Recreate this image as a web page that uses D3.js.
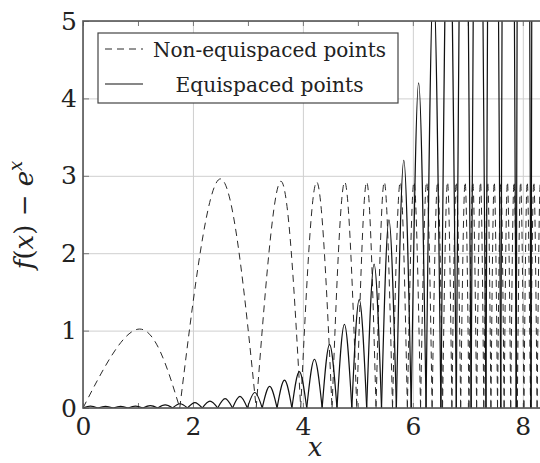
<!DOCTYPE html>
<html>
<head>
<meta charset="utf-8">
<script src="https://cdn.jsdelivr.net/npm/d3@7"></script>
<style>
  body { margin: 0; background: #fff; }
  svg { display: block; }
</style>
</head>
<body>
<div id="chart"></div>
<script>
// tick labels
var xTickLabels = [0, 2, 4, 6, 8];
var yTickLabels = [0, 1, 2, 3, 4, 5];
var xMinorTicks = [0, 1, 2, 3, 4, 5, 6, 7, 8];

// equispaced points: zeros of the error and the height of each arch
var eqZeros = [0.00, 0.27, 0.55, 0.82, 1.09, 1.36, 1.63, 1.90, 2.17, 2.45, 2.72,
  2.99, 3.26, 3.53, 3.80, 4.07, 4.35, 4.62, 4.89, 5.16, 5.43, 5.70, 5.97,
  6.24, 6.51, 6.79, 7.06, 7.33, 7.60, 7.88, 8.15, 8.42, 8.69];
var eqPeaks = [0.025, 0.02, 0.02, 0.025, 0.03, 0.04, 0.055, 0.07, 0.09, 0.12, 0.15,
  0.20, 0.28, 0.36, 0.47, 0.63, 0.82, 1.08, 1.40, 1.86, 2.43, 3.2,
  4.2, 5.5, 7.2, 9.5, 12.5, 16.4, 21.5, 28.2, 37, 48];

// non-equispaced points
var neqZeros = [0, 1.76, 3.15, 3.96, 4.53, 4.98, 5.33, 5.63, 5.90, 6.14, 6.35, 6.54,
  6.71, 6.87, 7.02, 7.16, 7.29, 7.42, 7.54, 7.66, 7.78, 7.90, 8.02, 8.14, 8.26, 8.38, 8.50];
var neqPeakX = [1.03, 2.50, 3.60, 4.25, 4.76, 5.16, 5.48, 5.77, 6.02, 6.25, 6.45, 6.63,
  6.79, 6.95, 7.09, 7.23, 7.36, 7.48, 7.60, 7.72, 7.84, 7.96, 8.08, 8.20, 8.32, 8.44];
var neqPeaks = [1.02, 2.96, 2.93, 2.92, 2.92, 2.92, 2.92, 2.92, 2.92, 2.92, 2.92, 2.92,
  2.92, 2.92, 2.92, 2.92, 2.92, 2.92, 2.92, 2.92, 2.92, 2.92, 2.92, 2.92, 2.92, 2.92];

var serif = "'DejaVu Serif', 'Liberation Serif', serif";

var svgWidth = 540;
var svgHeight = 463;

var margin = { top: 21, bottom: 55, right: -7, left: 83 };
var width = svgWidth - margin.left - margin.right;
var height = svgHeight - margin.top - margin.bottom;

var svg = d3.select("#chart")
  .append("svg")
  .attr("width", svgWidth)
  .attr("height", svgHeight);

var chartGroup = svg.append("g")
  .attr("transform", `translate(${margin.left}, ${margin.top})`);

var xScale = d3.scaleLinear().domain([0, 8.44]).range([0, width]);
var yScale = d3.scaleLinear().domain([0, 5]).range([height, 0]);

svg.append("defs").append("clipPath")
  .attr("id", "plot-clip")
  .append("rect")
  .attr("width", width)
  .attr("height", height);

// grid
chartGroup.append("g")
  .attr("transform", `translate(0, ${height})`)
  .call(d3.axisBottom(xScale).tickValues(xTickLabels).tickSize(-height).tickFormat(""))
  .call(g => g.select(".domain").remove())
  .call(g => g.selectAll("line").attr("stroke", "#cfcfcf"));

chartGroup.append("g")
  .call(d3.axisLeft(yScale).tickValues(yTickLabels).tickSize(-width).tickFormat(""))
  .call(g => g.select(".domain").remove())
  .call(g => g.selectAll("line").attr("stroke", "#cfcfcf"));

// small inner ticks
chartGroup.append("g")
  .attr("transform", `translate(0, ${height})`)
  .call(d3.axisBottom(xScale).tickValues(xMinorTicks).tickSize(-5).tickFormat(""))
  .call(g => g.select(".domain").remove())
  .call(g => g.selectAll("line").attr("stroke", "#777"));

chartGroup.append("g")
  .call(d3.axisTop(xScale).tickValues(xMinorTicks).tickSize(-5).tickFormat(""))
  .call(g => g.select(".domain").remove())
  .call(g => g.selectAll("line").attr("stroke", "#777"));

chartGroup.append("g")
  .call(d3.axisLeft(yScale).tickValues(yTickLabels).tickSize(-6).tickFormat(""))
  .call(g => g.select(".domain").remove())
  .call(g => g.selectAll("line").attr("stroke", "#777"));

// curves, one arch at a time
var archLine = d3.line()
  .x(d => xScale(d[0]))
  .y(d => yScale(d[1]))
  .curve(d3.curveNatural);

var plot = chartGroup.append("g").attr("clip-path", "url(#plot-clip)");

var eqArches = eqPeaks.map(function(h, i) {
  var a = eqZeros[i], b = eqZeros[i + 1];
  return [[a, 0], [(a + b) / 2, h], [b, 0]];
});

var neqArches = neqPeaks.map(function(h, i) {
  return [[neqZeros[i], 0], [neqPeakX[i], h], [neqZeros[i + 1], 0]];
});

plot.selectAll(".neq")
  .data(neqArches)
  .enter()
  .append("path")
  .attr("class", "neq")
  .attr("d", archLine)
  .attr("fill", "none")
  .attr("stroke", "#2a2a2a")
  .attr("stroke-width", 1)
  .attr("stroke-dasharray", "7,5");

plot.selectAll(".eq")
  .data(eqArches)
  .enter()
  .append("path")
  .attr("class", "eq")
  .attr("d", archLine)
  .attr("fill", "none")
  .attr("stroke", "#111")
  .attr("stroke-width", 1.2);

// frame
chartGroup.append("rect")
  .attr("width", width)
  .attr("height", height)
  .attr("fill", "none")
  .attr("stroke", "#555")
  .attr("stroke-width", 1.6);

// tick labels
chartGroup.append("g")
  .attr("transform", `translate(0, ${height})`)
  .call(d3.axisBottom(xScale).tickValues(xTickLabels).tickSize(0).tickPadding(9)
    .tickFormat(d3.format("d")))
  .call(g => g.select(".domain").remove())
  .call(g => g.selectAll("text").attr("font-size", 25).attr("fill", "#222")
    .style("font-family", serif));

chartGroup.append("g")
  .call(d3.axisLeft(yScale).tickValues(yTickLabels).tickSize(0).tickPadding(6)
    .tickFormat(d3.format("d")))
  .call(g => g.select(".domain").remove())
  .call(g => g.selectAll("text").attr("font-size", 25).attr("fill", "#222")
    .style("font-family", serif));

// axis titles
chartGroup.append("text")
  .attr("x", width / 2)
  .attr("y", height + 48)
  .attr("text-anchor", "middle")
  .style("font-family", serif)
  .attr("font-style", "italic")
  .attr("font-size", 26)
  .attr("fill", "#222")
  .text("x");

var yTitle = svg.append("text")
  .attr("transform", "translate(33, 215) rotate(-90)")
  .attr("text-anchor", "middle")
  .style("font-family", serif)
  .attr("font-size", 26)
  .attr("fill", "#222");
yTitle.append("tspan").attr("font-style", "italic").text("f");
yTitle.append("tspan").text("(");
yTitle.append("tspan").attr("font-style", "italic").text("x");
yTitle.append("tspan").text(") \u2212 ");
yTitle.append("tspan").attr("font-style", "italic").text("e");
yTitle.append("tspan").attr("font-style", "italic").attr("font-size", 18)
  .attr("dy", -11).text("x");

// legend
var legend = svg.append("g");
legend.append("rect")
  .attr("x", 98).attr("y", 33)
  .attr("width", 300).attr("height", 70)
  .attr("fill", "#fff")
  .attr("stroke", "#444")
  .attr("stroke-width", 1.2);

legend.append("line")
  .attr("x1", 105).attr("x2", 143).attr("y1", 49).attr("y2", 49)
  .attr("stroke", "#2a2a2a").attr("stroke-dasharray", "7,5");
legend.append("line")
  .attr("x1", 105).attr("x2", 143).attr("y1", 84).attr("y2", 84)
  .attr("stroke", "#111").attr("stroke-width", 1.2);

legend.append("text")
  .attr("x", 269.5).attr("y", 57)
  .attr("text-anchor", "middle")
  .style("font-family", serif)
  .attr("font-size", 21)
  .attr("fill", "#222")
  .attr("textLength", 233).attr("lengthAdjust", "spacingAndGlyphs")
  .text("Non-equispaced points");
legend.append("text")
  .attr("x", 269.5).attr("y", 92)
  .attr("text-anchor", "middle")
  .style("font-family", serif)
  .attr("font-size", 21)
  .attr("fill", "#222")
  .attr("textLength", 188).attr("lengthAdjust", "spacingAndGlyphs")
  .text("Equispaced points");
</script>
</body>
</html>
